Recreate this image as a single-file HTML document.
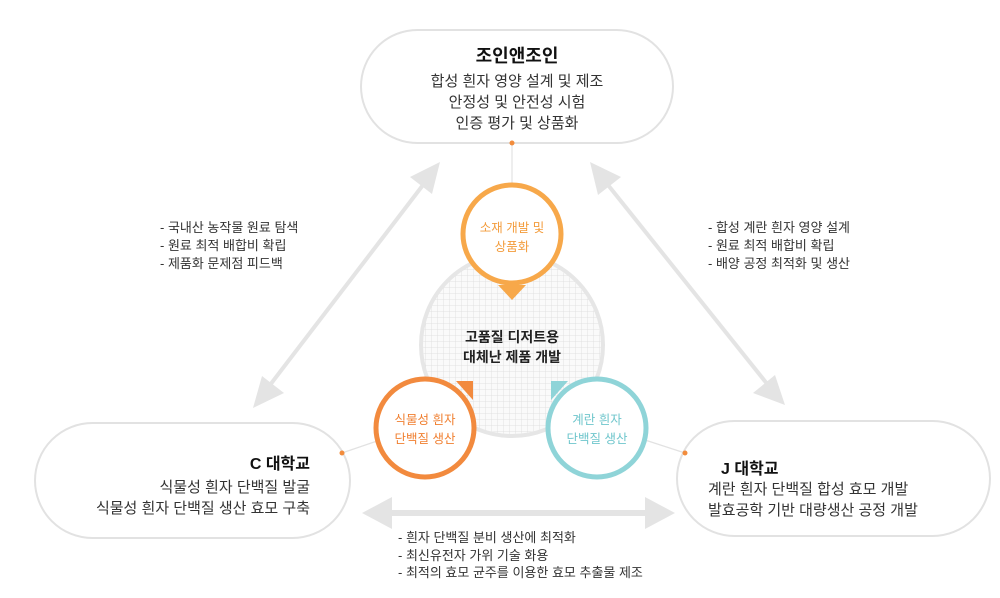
<!DOCTYPE html>
<html><head><meta charset="utf-8"><style>
html,body{margin:0;padding:0;background:#fff;}
body{width:1000px;height:598px;position:relative;overflow:hidden;font-family:"Liberation Sans","Noto Sans CJK KR",sans-serif;}
.t{position:absolute;white-space:nowrap;color:#222;}
</style></head><body>
<svg width="1000" height="598" style="position:absolute;left:0;top:0">
<defs>
<pattern id="g" width="6" height="6" patternUnits="userSpaceOnUse">
<path d="M6 0V6M0 6H6" stroke="#dcdcdc" stroke-width="0.8" fill="none"/>
</pattern>
</defs>
<rect x="361" y="30" width="312" height="113" rx="56.5" fill="#fff" stroke="#e2e2e2" stroke-width="2"/>
<rect x="35" y="423" width="315" height="115" rx="57.5" fill="#fff" stroke="#e2e2e2" stroke-width="2"/>
<rect x="677" y="421" width="313" height="115" rx="57.5" fill="#fff" stroke="#e2e2e2" stroke-width="2"/>
<line x1="512" y1="143" x2="512" y2="185" stroke="#e2e2e2" stroke-width="1.2"/>
<line x1="342" y1="453" x2="380" y2="440" stroke="#e2e2e2" stroke-width="1.2"/>
<line x1="685" y1="453" x2="645" y2="440" stroke="#e2e2e2" stroke-width="1.2"/>
<circle cx="512" cy="143" r="2.5" fill="#f28c3c"/>
<circle cx="342" cy="453" r="2.5" fill="#f28c3c"/>
<circle cx="685" cy="453" r="2.5" fill="#f28c3c"/>
<line x1="270" y1="385" x2="423" y2="185" stroke="#e4e4e4" stroke-width="4"/>
<polygon points="440,162 410,177 432,194" fill="#e4e4e4"/>
<polygon points="253,408 262,376 284,393" fill="#e4e4e4"/>
<line x1="608" y1="185" x2="768" y2="385" stroke="#e4e4e4" stroke-width="4"/>
<polygon points="590,162 598,195 621,177" fill="#e4e4e4"/>
<polygon points="785,405 753,393 775,375" fill="#e4e4e4"/>
<line x1="385" y1="513" x2="652" y2="513" stroke="#e4e4e4" stroke-width="6"/>
<polygon points="362,513 392,497 392,529" fill="#e4e4e4"/>
<polygon points="675,513 645,497 645,529" fill="#e4e4e4"/>
<circle cx="512" cy="345" r="91" fill="#fafafa" stroke="#e6e6e6" stroke-width="4"/>
<circle cx="512" cy="345" r="89" fill="url(#g)"/>
<circle cx="512" cy="234" r="49" fill="#fff" stroke="#f7a84a" stroke-width="5"/>
<polygon points="498,285 526,285 512,300" fill="#f7a84a"/>
<circle cx="425" cy="428" r="49" fill="#fff" stroke="#f28a3e" stroke-width="5"/>
<polygon points="456,381 473,381 473,400" fill="#f28a3e"/>
<circle cx="597" cy="428" r="49" fill="#fff" stroke="#8fd4d8" stroke-width="5"/>
<polygon points="551,381 568,381 551,400" fill="#8fd4d8"/>
</svg>
<div class="t" style="left:361px;width:312px;top:42px;text-align:center;font-size:18px;font-weight:bold;color:#111">조인앤조인</div>
<div class="t" style="left:361px;width:312px;top:71px;text-align:center;font-size:15px;line-height:21px;color:#333">합성 흰자 영양 설계 및 제조<br>안정성 및 안전성 시험<br>인증 평가 및 상품화</div>
<div class="t" style="left:462px;width:100px;top:219px;text-align:center;font-size:12.5px;line-height:19px;color:#f39c3c">소재 개발 및<br>상품화</div>
<div class="t" style="left:440px;width:144px;top:327px;text-align:center;font-size:14px;line-height:20px;font-weight:bold;color:#222">고품질 디저트용<br>대체난 제품 개발</div>
<div class="t" style="left:375px;width:100px;top:411px;text-align:center;font-size:12.5px;line-height:19px;color:#f07f30">식물성 흰자<br>단백질 생산</div>
<div class="t" style="left:547px;width:100px;top:411px;text-align:center;font-size:12.5px;line-height:19px;color:#6fc6cc">계란 흰자<br>단백질 생산</div>
<div class="t" style="left:160px;top:219px;font-size:13px;line-height:18px;color:#333">- 국내산 농작물 원료 탐색<br>- 원료 최적 배합비 확립<br>- 제품화 문제점 피드백</div>
<div class="t" style="left:708px;top:219px;font-size:13px;line-height:18px;color:#333">- 합성 계란 흰자 영양 설계<br>- 원료 최적 배합비 확립<br>- 배양 공정 최적화 및 생산</div>
<div class="t" style="left:398px;top:529px;font-size:13px;line-height:17.5px;color:#333">- 흰자 단백질 분비 생산에 최적화<br>- 최신유전자 가위 기술 화용<br>- 최적의 효모 균주를 이용한 효모 추출물 제조</div>
<div class="t" style="right:690px;top:450px;text-align:right;font-size:16px;font-weight:bold;color:#111">C 대학교</div>
<div class="t" style="right:690px;top:477px;text-align:right;font-size:15px;line-height:21px;color:#333">식물성 흰자 단백질 발굴<br>식물성 흰자 단백질 생산 효모 구축</div>
<div class="t" style="left:721px;top:455px;font-size:16px;font-weight:bold;color:#111">J 대학교</div>
<div class="t" style="left:708px;top:479px;font-size:15px;line-height:21px;color:#333">계란 흰자 단백질 합성 효모 개발<br>발효공학 기반 대량생산 공정 개발</div>
</body></html>
